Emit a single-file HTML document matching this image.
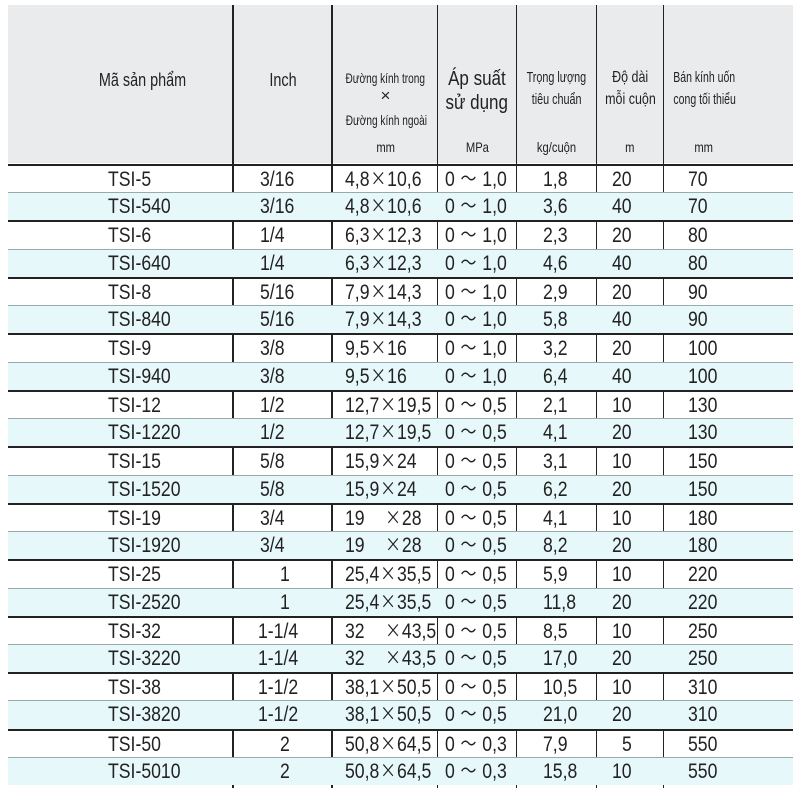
<!DOCTYPE html>
<html><head><meta charset="utf-8"><style>
body{margin:0;width:800px;height:800px;background:#fff;position:relative;overflow:hidden;font-family:"Liberation Sans","Noto Sans CJK JP",sans-serif;color:#222}
.hdr{position:absolute;left:8px;top:5px;width:785px;height:158px;background:#e9ebed}
.vl{position:absolute;top:5px;height:785px;background:#222}
.h{position:absolute;white-space:nowrap;text-align:center}
.h i{font-style:normal;display:inline-block;transform:scaleX(.8)}
.rows{position:absolute;left:8px;top:164px;width:785px}
.r{position:relative;box-sizing:border-box;height:28.24px;font-size:21px;line-height:27px}
.r.b{background:#e7f8fa;border-top:1px solid #9aa}
.r.g{border-top:2.5px solid #222}
.r span{position:absolute;top:0;height:26px;white-space:nowrap;transform:scaleX(.84);transform-origin:left center}
.x{font-family:"Noto Sans CJK JP",sans-serif;font-size:19px;margin:0 1px;font-weight:normal;line-height:0;vertical-align:1px}
.c1{left:100px}.c2{left:252px}.c3{left:337px}.c4{left:437px}.c5{left:535px}.c6{left:604px}.c7{left:680px}
</style></head><body>
<div class="hdr"></div>
<div class="vl" style="left:232px;width:2px"></div>
<div class="vl" style="left:331px;width:2px"></div>
<div class="vl" style="left:437px;width:1px"></div>
<div class="vl" style="left:516px;width:1px"></div>
<div class="vl" style="left:596px;width:1px"></div>
<div class="vl" style="left:663px;width:1px"></div>
<div class="h" style="left:55px;width:175px;top:70px;font-size:18px"><i>Mã sản phẩm</i></div>
<div class="h" style="left:234px;width:98px;top:70px;font-size:18px"><i>Inch</i></div>
<div class="h" style="left:330px;width:111px;top:70px;font-size:14px"><i style="transform:scaleX(.72)">Đường kính trong</i></div>
<div class="h" style="left:334px;width:103px;top:86px;font-size:17px">×</div>
<div class="h" style="left:330px;width:111px;top:112px;font-size:14px"><i style="transform:scaleX(.72)">Đường kính ngoài</i></div>
<div class="h" style="left:334px;width:103px;top:139px;font-size:14px"><i>mm</i></div>
<div class="h" style="left:438px;width:78px;top:68px;font-size:20px"><i style="transform:scaleX(.85)">Áp suất</i></div>
<div class="h" style="left:438px;width:78px;top:92px;font-size:20px"><i style="transform:scaleX(.85)">sử dụng</i></div>
<div class="h" style="left:438px;width:78px;top:139px;font-size:14px"><i>MPa</i></div>
<div class="h" style="left:515px;width:83px;top:69px;font-size:15px"><i style="transform:scaleX(.72)">Trọng lượng</i></div>
<div class="h" style="left:515px;width:83px;top:91px;font-size:15px"><i style="transform:scaleX(.72)">tiêu chuẩn</i></div>
<div class="h" style="left:517px;width:79px;top:139px;font-size:14px"><i>kg/cuộn</i></div>
<div class="h" style="left:595px;width:70px;top:69px;font-size:16px"><i style="transform:scaleX(.78)">Độ dài</i></div>
<div class="h" style="left:595px;width:70px;top:91px;font-size:16px"><i style="transform:scaleX(.78)">mỗi cuộn</i></div>
<div class="h" style="left:597px;width:66px;top:139px;font-size:14px"><i>m</i></div>
<div class="h" style="left:660px;width:84px;top:69px;font-size:15px"><i style="transform:scaleX(.7)">Bán kính uốn</i></div>
<div class="h" style="left:660px;width:84px;top:91px;font-size:15px"><i style="transform:scaleX(.7)">cong tối thiểu</i></div>
<div class="h" style="left:664px;width:80px;top:139px;font-size:14px"><i>mm</i></div>
<div class="rows">
<div class="r g"><span class="c1">TSI-5</span><span class="c2">3/16</span><span class="c3">4,8<b class="x">×</b>10,6</span><span class="c4">0 <b class="x">～</b> 1,0</span><span class="c5">1,8</span><span class="c6">20</span><span class="c7">70</span></div>
<div class="r b"><span class="c1">TSI-540</span><span class="c2">3/16</span><span class="c3">4,8<b class="x">×</b>10,6</span><span class="c4">0 <b class="x">～</b> 1,0</span><span class="c5">3,6</span><span class="c6">40</span><span class="c7">70</span></div>
<div class="r g"><span class="c1">TSI-6</span><span class="c2">1/4</span><span class="c3">6,3<b class="x">×</b>12,3</span><span class="c4">0 <b class="x">～</b> 1,0</span><span class="c5">2,3</span><span class="c6">20</span><span class="c7">80</span></div>
<div class="r b"><span class="c1">TSI-640</span><span class="c2">1/4</span><span class="c3">6,3<b class="x">×</b>12,3</span><span class="c4">0 <b class="x">～</b> 1,0</span><span class="c5">4,6</span><span class="c6">40</span><span class="c7">80</span></div>
<div class="r g"><span class="c1">TSI-8</span><span class="c2">5/16</span><span class="c3">7,9<b class="x">×</b>14,3</span><span class="c4">0 <b class="x">～</b> 1,0</span><span class="c5">2,9</span><span class="c6">20</span><span class="c7">90</span></div>
<div class="r b"><span class="c1">TSI-840</span><span class="c2">5/16</span><span class="c3">7,9<b class="x">×</b>14,3</span><span class="c4">0 <b class="x">～</b> 1,0</span><span class="c5">5,8</span><span class="c6">40</span><span class="c7">90</span></div>
<div class="r g"><span class="c1">TSI-9</span><span class="c2">3/8</span><span class="c3">9,5<b class="x">×</b>16</span><span class="c4">0 <b class="x">～</b> 1,0</span><span class="c5">3,2</span><span class="c6">20</span><span class="c7">100</span></div>
<div class="r b"><span class="c1">TSI-940</span><span class="c2">3/8</span><span class="c3">9,5<b class="x">×</b>16</span><span class="c4">0 <b class="x">～</b> 1,0</span><span class="c5">6,4</span><span class="c6">40</span><span class="c7">100</span></div>
<div class="r g"><span class="c1">TSI-12</span><span class="c2">1/2</span><span class="c3">12,7<b class="x">×</b>19,5</span><span class="c4">0 <b class="x">～</b> 0,5</span><span class="c5">2,1</span><span class="c6">10</span><span class="c7">130</span></div>
<div class="r b"><span class="c1">TSI-1220</span><span class="c2">1/2</span><span class="c3">12,7<b class="x">×</b>19,5</span><span class="c4">0 <b class="x">～</b> 0,5</span><span class="c5">4,1</span><span class="c6">20</span><span class="c7">130</span></div>
<div class="r g"><span class="c1">TSI-15</span><span class="c2">5/8</span><span class="c3">15,9<b class="x">×</b>24</span><span class="c4">0 <b class="x">～</b> 0,5</span><span class="c5">3,1</span><span class="c6">10</span><span class="c7">150</span></div>
<div class="r b"><span class="c1">TSI-1520</span><span class="c2">5/8</span><span class="c3">15,9<b class="x">×</b>24</span><span class="c4">0 <b class="x">～</b> 0,5</span><span class="c5">6,2</span><span class="c6">20</span><span class="c7">150</span></div>
<div class="r g"><span class="c1">TSI-19</span><span class="c2">3/4</span><span class="c3">19&nbsp;&nbsp;&nbsp;&nbsp;<b class="x">×</b>28</span><span class="c4">0 <b class="x">～</b> 0,5</span><span class="c5">4,1</span><span class="c6">10</span><span class="c7">180</span></div>
<div class="r b"><span class="c1">TSI-1920</span><span class="c2">3/4</span><span class="c3">19&nbsp;&nbsp;&nbsp;&nbsp;<b class="x">×</b>28</span><span class="c4">0 <b class="x">～</b> 0,5</span><span class="c5">8,2</span><span class="c6">20</span><span class="c7">180</span></div>
<div class="r g"><span class="c1">TSI-25</span><span class="c2" style="left:272px">1</span><span class="c3">25,4<b class="x">×</b>35,5</span><span class="c4">0 <b class="x">～</b> 0,5</span><span class="c5">5,9</span><span class="c6">10</span><span class="c7">220</span></div>
<div class="r b"><span class="c1">TSI-2520</span><span class="c2" style="left:272px">1</span><span class="c3">25,4<b class="x">×</b>35,5</span><span class="c4">0 <b class="x">～</b> 0,5</span><span class="c5">11,8</span><span class="c6">20</span><span class="c7">220</span></div>
<div class="r g"><span class="c1">TSI-32</span><span class="c2" style="left:250px">1-1/4</span><span class="c3">32&nbsp;&nbsp;&nbsp;&nbsp;<b class="x">×</b>43,5</span><span class="c4">0 <b class="x">～</b> 0,5</span><span class="c5">8,5</span><span class="c6">10</span><span class="c7">250</span></div>
<div class="r b"><span class="c1">TSI-3220</span><span class="c2" style="left:250px">1-1/4</span><span class="c3">32&nbsp;&nbsp;&nbsp;&nbsp;<b class="x">×</b>43,5</span><span class="c4">0 <b class="x">～</b> 0,5</span><span class="c5">17,0</span><span class="c6">20</span><span class="c7">250</span></div>
<div class="r g"><span class="c1">TSI-38</span><span class="c2" style="left:250px">1-1/2</span><span class="c3">38,1<b class="x">×</b>50,5</span><span class="c4">0 <b class="x">～</b> 0,5</span><span class="c5">10,5</span><span class="c6">10</span><span class="c7">310</span></div>
<div class="r b"><span class="c1">TSI-3820</span><span class="c2" style="left:250px">1-1/2</span><span class="c3">38,1<b class="x">×</b>50,5</span><span class="c4">0 <b class="x">～</b> 0,5</span><span class="c5">21,0</span><span class="c6">20</span><span class="c7">310</span></div>
<div class="r g"><span class="c1">TSI-50</span><span class="c2" style="left:272px">2</span><span class="c3">50,8<b class="x">×</b>64,5</span><span class="c4">0 <b class="x">～</b> 0,3</span><span class="c5">7,9</span><span class="c6" style="left:614px">5</span><span class="c7">550</span></div>
<div class="r b"><span class="c1">TSI-5010</span><span class="c2" style="left:272px">2</span><span class="c3">50,8<b class="x">×</b>64,5</span><span class="c4">0 <b class="x">～</b> 0,3</span><span class="c5">15,8</span><span class="c6">10</span><span class="c7">550</span></div>
</div>
<div style="position:absolute;left:0;top:788px;width:800px;height:12px;background:#fff"></div>
</body></html>
